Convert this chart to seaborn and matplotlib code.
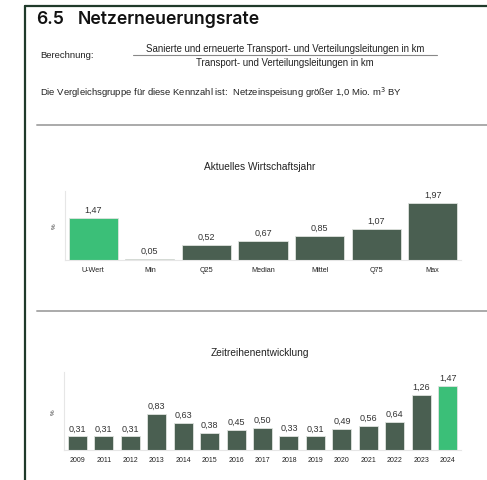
import matplotlib
matplotlib.use("Agg")
import matplotlib.pyplot as plt
import seaborn as sns
import pandas as pd
from matplotlib.lines import Line2D

# Data
current_labels = ['U-Wert', 'Min', 'Q25', 'Median', 'Mittel', 'Q75', 'Max']
current_values = [1.47, 0.05, 0.52, 0.67, 0.85, 1.07, 1.97]

years = ['2009', '2011', '2012', '2013', '2014', '2015', '2016', '2017',
         '2018', '2019', '2020', '2021', '2022', '2023', '2024']
year_values = [0.31, 0.31, 0.31, 0.83, 0.63, 0.38, 0.45, 0.50,
               0.33, 0.31, 0.49, 0.56, 0.64, 1.26, 1.47]

DARK = '#4a5f51'
GREEN = '#3bbf78'
FRAME = '#1f3a2a'
W, H = 487, 481

sns.set_theme(style="white")
plt.rcParams['font.family'] = ['Liberation Sans', 'DejaVu Sans']

fig = plt.figure(figsize=(W / 100, H / 100), dpi=100)


def fx(px):
    return px / W


def fy(py):
    return 1 - py / H


def hline(x0, x1, y, color, lw):
    fig.add_artist(Line2D([fx(x0), fx(x1)], [fy(y), fy(y)], color=color, lw=lw,
                          transform=fig.transFigure))


# Page frame
fig.add_artist(Line2D([fx(25), fx(25)], [fy(7), fy(481)], color=FRAME, lw=1.6,
                      transform=fig.transFigure))
hline(25, 487, 7, FRAME, 1.6)

# Header texts
title_font = ['Inter', 'DejaVu Sans']
fig.text(fx(36), fy(20), '6.5', fontsize=12.7, fontweight='semibold',
         family=title_font, va='center', ha='left', color='#111111')
fig.text(fx(78), fy(20), 'Netzerneuerungsrate', fontsize=12.7, fontweight='semibold',
         family=title_font, va='center', ha='left', color='#111111')
fig.text(fx(40), fy(56), 'Berechnung:', fontsize=6.8, va='center', ha='left', color='#222222')
fig.text(fx(285), fy(49), 'Sanierte und erneuerte Transport- und Verteilungsleitungen in km',
         fontsize=6.9, va='center', ha='center', color='#222222')
hline(133, 437, 56, '#888888', 0.8)
fig.text(fx(285), fy(63), 'Transport- und Verteilungsleitungen in km',
         fontsize=6.9, va='center', ha='center', color='#222222')
fig.text(fx(40), fy(93),
         'Die Vergleichsgruppe für diese Kennzahl ist:  Netzeinspeisung größer 1,0 Mio. m$^3$ BY',
         fontsize=6.8, va='center', ha='left', color='#222222')
hline(37, 487, 126, '#aaaaaa', 1.4)
hline(37, 487, 312, '#aaaaaa', 1.4)


def fmt(v):
    return f"{v:.2f}".replace('.', ',')


def bar_panel(rect_px, title, title_y, labels, values, colors, width, ymax, val_fs, tick_fs):
    x0, y0, x1, y1 = rect_px
    ax = fig.add_axes([fx(x0), fy(y1), fx(x1 - x0), (y1 - y0) / H])
    df = pd.DataFrame({'cat': labels, 'val': values})
    sns.barplot(data=df, x='cat', y='val', hue='cat', palette=colors, legend=False,
                width=width, saturation=1, edgecolor='#dfe3df', linewidth=0.6, ax=ax)
    ax.set_ylim(0, ymax)
    ax.set_xlim(-0.5, len(labels) - 0.5)
    for cont in ax.containers:
        ax.bar_label(cont, labels=[fmt(b.get_height()) for b in cont], padding=3,
                     fontsize=val_fs, color='#333333')
    ax.set_xlabel('')
    ax.set_ylabel('%', fontsize=4.5, color='#333333', labelpad=6)
    ax.set_yticks([])
    ax.tick_params(axis='x', length=0, labelsize=tick_fs, colors='#222222', pad=4)
    sns.despine(ax=ax)
    for s in ['left', 'bottom']:
        ax.spines[s].set_color('#e6e6e6')
        ax.spines[s].set_linewidth(0.8)
    fig.text(fx((x0 + x1) / 2 - 3), fy(title_y), title, fontsize=7.3, ha='center',
             va='center', color='#222222')
    return ax


bar_panel((65, 192, 461, 261), 'Aktuelles Wirtschaftsjahr', 167,
          current_labels, current_values,
          [GREEN] + [DARK] * 6, 0.87, 2.4, 6.5, 5.2)

bar_panel((64, 373, 461, 451), 'Zeitreihenentwicklung', 353,
          years, year_values,
          [DARK] * 14 + [GREEN], 0.72, 1.79, 6.5, 5.0)

fig.savefig('out.png', dpi=100, facecolor='white')
